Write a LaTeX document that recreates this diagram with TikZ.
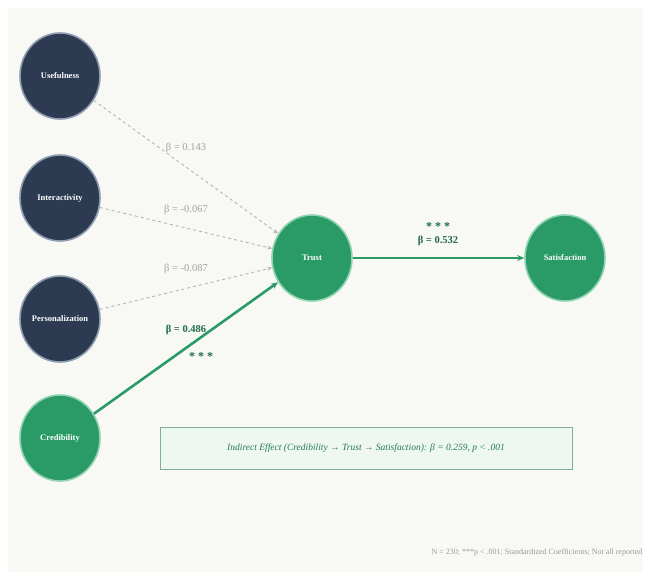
\documentclass[tikz,border=0pt]{standalone}
\usepackage{fontspec}
\setmainfont{Liberation Serif}
\usepackage{tikz}
\usetikzlibrary{arrows.meta,shapes.geometric}

\definecolor{navy}{HTML}{2C3B52}
\definecolor{navyrim}{HTML}{8E9CB0}
\definecolor{leaf}{HTML}{2A9A66}
\definecolor{leafrim}{HTML}{8FD3B0}
\definecolor{paper}{HTML}{F8F8F5}
\definecolor{pathgray}{HTML}{B4B4B4}
\definecolor{boxfill}{HTML}{EEF7F1}
\definecolor{boxrim}{HTML}{7FAF95}

\begin{document}
\begin{tikzpicture}[x=1pt,y=-1pt,
	construct/.style={ellipse, minimum width=80pt, minimum height=86pt, inner sep=0pt,
		text=white, font=\fontsize{8.5}{10}\selectfont\bfseries, line width=1.6pt},
	predictor/.style={construct, fill=navy, draw=navyrim},
	outcome/.style={construct, fill=leaf, draw=leafrim},
	weakpath/.style={pathgray, dashed, line width=0.9pt, -{Stealth[length=5pt,width=4pt]}},
	strongpath/.style={leaf, line width=2.6pt, -{Stealth[length=7pt,width=6pt]}},
	weaklabel/.style={text=pathgray!90!black, font=\fontsize{10.5}{12}\selectfont},
	stronglabel/.style={text=leaf!70!black, font=\fontsize{10.5}{12}\selectfont\bfseries},
	starlabel/.style={text=leaf!70!black, font=\fontsize{12}{12}\selectfont\bfseries}]

	\fill[white] (0,0) rectangle (649,576);
	\fill[paper] (8,8) rectangle (643,572);
	\useasboundingbox (0,0) rectangle (649,576);

	\node[predictor] (use) at (60,76) {Usefulness};
	\node[predictor] (inter) at (60,198) {Interactivity};
	\node[predictor] (pers) at (60,319) {Personalization};
	\node[outcome] (cred) at (60,438) {Credibility};
	\node[outcome] (trust) at (312,258) {Trust};
	\node[outcome] (sat) at (565,258) {Satisfaction};

	\draw[weakpath] (use) -- (trust);
	\draw[weakpath] (inter) -- (trust);
	\draw[weakpath] (pers) -- (trust);
	\draw[strongpath] (cred) -- (trust);
	\draw[strongpath] (trust) -- (sat);

	\node[weaklabel] (b1) at (186,148) {β = 0.143};
	\node[weaklabel] (b2) at (186,210) {β = -0.067};
	\node[weaklabel] (b3) at (186,269) {β = -0.087};
	\node[stronglabel] (b4) at (186,330) {β = 0.486};
	\node[starlabel] (s4) at (201,357) {* * *};
	\node[starlabel] (s5) at (438,227) {* * *};
	\node[stronglabel] (b5) at (438,241) {β = 0.532};

	\draw[boxrim, fill=boxfill, line width=1pt] (160,427) rectangle (572,469);
	\node[text=leaf!80!black, font=\fontsize{9.5}{11}\selectfont\itshape] (ind) at (366,448)
		{Indirect Effect (Credibility → Trust → Satisfaction): β = 0.259, p < .001};

	\node[anchor=east, text=gray!80, font=\fontsize{8}{9}\selectfont] (note) at (646,553)
		{N = 230; ***p < .001; Standardized Coefficients; Not all reported};

\end{tikzpicture}
\end{document}
